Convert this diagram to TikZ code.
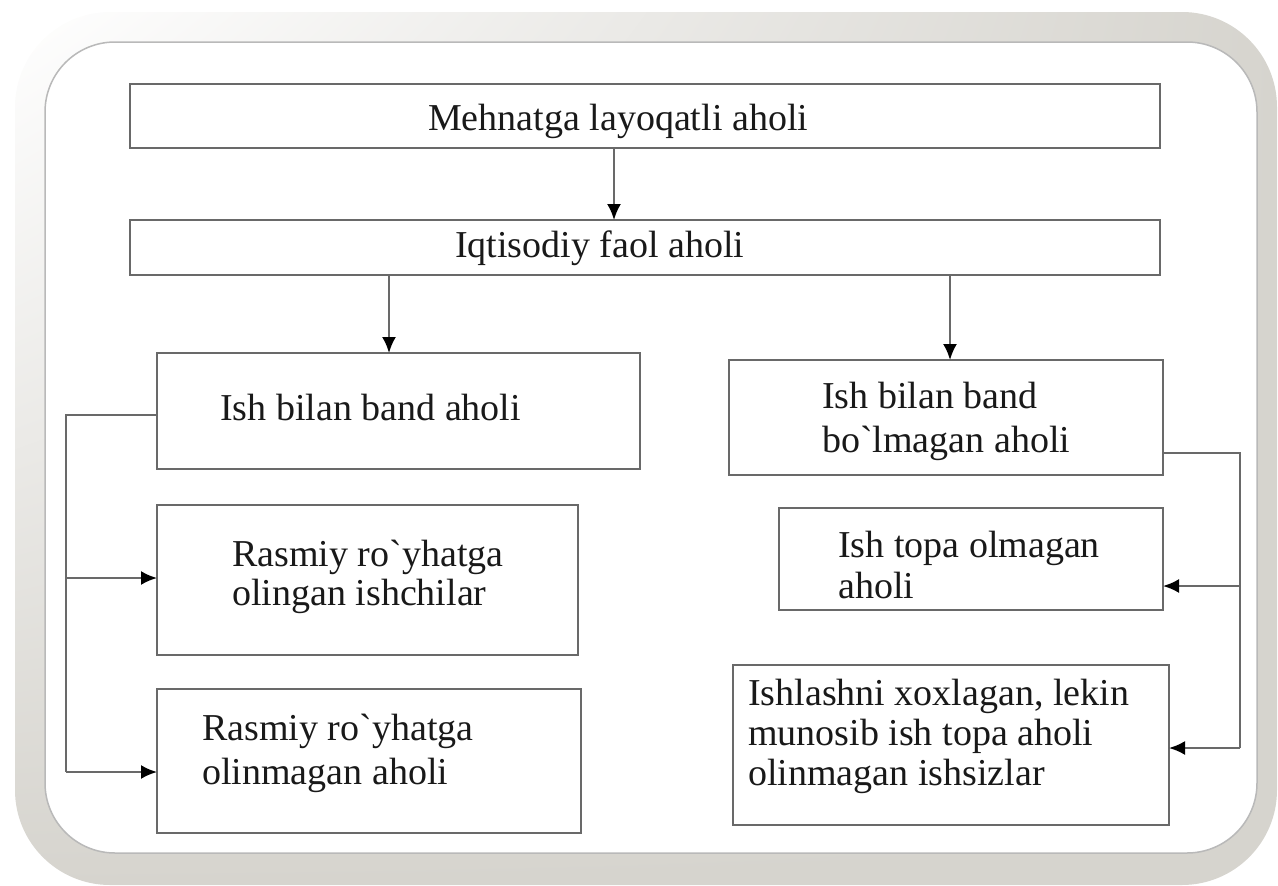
\documentclass[tikz,border=0pt]{standalone}
\usepackage{fontspec}
\setmainfont{Liberation Serif}[Ligatures=TeXOff]
\usetikzlibrary{arrows.meta,shadings}
\definecolor{bandgray}{RGB}{214,212,206}
\definecolor{linegray}{RGB}{105,105,105}
\definecolor{txtcol}{RGB}{25,25,25}
\begin{document}
\begin{tikzpicture}[x=1pt,y=-1pt,
  box/.style={draw=linegray,line width=2.2pt,fill=white,inner sep=0pt,outer sep=0pt,anchor=north west},
  txt/.style={font=\fontsize{38}{42}\selectfont,text=txtcol,inner sep=0pt,anchor=base west},
  conn/.style={draw=linegray,line width=2.2pt},
  arr/.style={conn,-{Latex[length=16pt,width=14pt,color=black]}}]
\useasboundingbox (0,0) rectangle (1278,886);
% frame
\shade[upper left=white,upper right=bandgray,lower left=bandgray,lower right=bandgray,rounded corners=95pt]
  (15,12) rectangle (1277,885);
\fill[white,rounded corners=70pt] (45,42) rectangle (1257,853);
\draw[gray!55,line width=1.5pt,rounded corners=70pt] (45,42) rectangle (1257,853);
% boxes
\node[box,minimum width=1030pt,minimum height=64pt] (b1) at (130,84) {};
\node[box,minimum width=1030pt,minimum height=55pt] (b2) at (130,220) {};
\node[box,minimum width=483pt,minimum height=116pt] (b3) at (157,353) {};
\node[box,minimum width=421pt,minimum height=150pt] (b4) at (157,505) {};
\node[box,minimum width=424pt,minimum height=144pt] (b5) at (157,689) {};
\node[box,minimum width=434pt,minimum height=115pt] (b6) at (729,360) {};
\node[box,minimum width=384pt,minimum height=102pt] (b7) at (779,508) {};
\node[box,minimum width=436pt,minimum height=160pt] (b8) at (733,665) {};
% texts
\node[txt] (t1) at (428,130) {Mehnatga layoqatli aholi};
\node[txt] (t2) at (455,257) {Iqtisodiy faol aholi};
\node[txt] (t3) at (220,420) {Ish bilan band aholi};
\node[txt] (t4a) at (232,566) {Rasmiy ro`yhatga};
\node[txt] (t4b) at (232,605) {olingan ishchilar};
\node[txt] (t5a) at (202,740) {Rasmiy ro`yhatga};
\node[txt] (t5b) at (202,784) {olinmagan aholi};
\node[txt] (t6a) at (822,408) {Ish bilan band};
\node[txt] (t6b) at (822,452) {bo`lmagan aholi};
\node[txt] (t7a) at (838,557) {Ish topa olmagan};
\node[txt] (t7b) at (838,598) {aholi};
\node[txt] (t8a) at (748,705) {Ishlashni xoxlagan, lekin};
\node[txt] (t8b) at (748,745) {munosib ish topa aholi};
\node[txt] (t8c) at (748,785) {olinmagan ishsizlar};
% connector guide coordinates
\coordinate (x1) at (614,0);
\coordinate (x2) at (389,0);
\coordinate (x3) at (950,0);
\coordinate (lx) at (66,0);
\coordinate (rx) at (1240,0);
\coordinate (y3) at (0,415);
\coordinate (y4) at (0,578);
\coordinate (y5) at (0,772);
\coordinate (y6) at (0,453);
\coordinate (y7) at (0,586);
\coordinate (y8) at (0,748);
% connectors
\draw[arr] (b1.south -| x1) -- (b2.north -| x1);
\draw[arr] (b2.south -| x2) -- (b3.north -| x2);
\draw[arr] (b2.south -| x3) -- (b6.north -| x3);
\draw[conn] (b3.west |- y3) -- (lx |- y3) -- (lx |- y5);
\draw[arr] (lx |- y4) -- (b4.west |- y4);
\draw[arr] (lx |- y5) -- (b5.west |- y5);
\draw[conn] (b6.east |- y6) -- (rx |- y6) -- (rx |- y8);
\draw[arr] (rx |- y7) -- (b7.east |- y7);
\draw[arr] (rx |- y8) -- (b8.east |- y8);
\end{tikzpicture}
\end{document}
